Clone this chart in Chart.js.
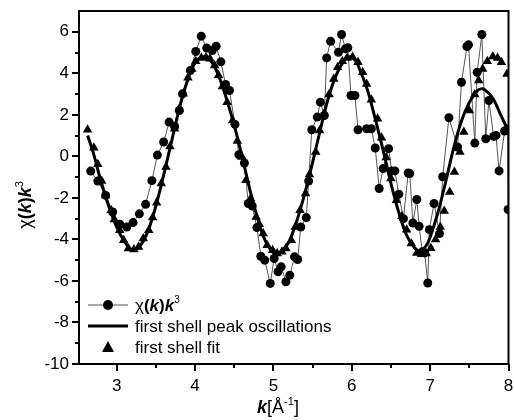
<!DOCTYPE html>
<html>
<head>
<meta charset="utf-8">
<script src="https://cdn.jsdelivr.net/npm/chart.js@4.4.1/dist/chart.umd.min.js"></script>
<style>
  html, body { margin: 0; padding: 0; background: #fff; }
  canvas { display: block; }
</style>
</head>
<body>
<canvas id="chart" width="514" height="420"></canvas>
<script>
'use strict';

// ── Data ────────────────────────────────────────────────────────────────────
// measured chi(k)k^3 (circles, thin grey line)
const measK = [2.67, 2.76, 2.86, 2.95, 3.04, 3.13, 3.21, 3.29, 3.37, 3.45, 3.52, 3.60, 3.67, 3.74,
  3.80, 3.84, 3.94, 4.01, 4.08, 4.15, 4.22, 4.27, 4.33, 4.39, 4.44, 4.51, 4.56, 4.63, 4.68, 4.73, 4.79,
  4.84, 4.89, 4.96, 5.01, 5.06, 5.10, 5.16, 5.21, 5.27, 5.31, 5.35, 5.42, 5.45, 5.49, 5.56, 5.60,
  5.65, 5.68, 5.73, 5.83, 5.87, 5.92, 5.95, 5.99, 6.04, 6.08, 6.19, 6.25, 6.30, 6.35, 6.40, 6.47,
  6.51, 6.55, 6.60, 6.66, 6.72, 6.74, 6.78, 6.83, 6.86, 6.90, 6.93, 6.97, 6.99, 7.05, 7.12, 7.16, 7.24, 7.35,
  7.40, 7.47, 7.49, 7.57, 7.60, 7.66, 7.71, 7.75, 7.81, 7.84, 7.88, 7.95, 7.99, 7.995];
const measChi = [-0.71, -1.19, -1.88, -2.68, -3.27, -3.40, -3.19, -2.77, -2.31, -1.17, 0.06, 0.69, 1.65, 1.44,
  2.21, 3.01, 4.13, 5.05, 5.79, 5.22, 5.10, 5.30, 4.55, 3.46, 3.17, 1.54, 0.08, -0.32, -2.27, -2.39, -3.43,
  -4.81, -5.00, -6.12, -4.92, -5.56, -5.32, -6.04, -5.72, -4.84, -4.97, -3.40, -2.95, -1.19, 1.28, 1.89, 2.61,
  1.97, 4.74, 5.54, 5.01, 5.87, 5.18, 5.23, 2.93, 2.93, 1.28, 1.33, 1.33, 0.40, -1.55, -0.59, 0.37,
  -0.70, -0.70, -1.82, -3.00, -0.80, -0.83, -3.21, -2.08, -3.37, -4.60, -4.65, -6.10, -3.53, -2.27, -3.72, -0.98, 1.86, 0.45,
  3.57, 5.29, 5.37, 0.64, 4.05, 5.87, 0.85, 2.69, 0.96, 1.01, -0.70, 1.22, 1.33, -2.56];

// first shell peak oscillations (thick black line)
const peakK = [2.63, 2.70, 2.80, 2.90, 3.00, 3.10, 3.20, 3.30, 3.40, 3.50, 3.60, 3.70, 3.80, 3.90,
  4.00, 4.10, 4.20, 4.30, 4.40, 4.50, 4.60, 4.70, 4.80, 4.90, 5.00, 5.05, 5.10, 5.20, 5.30, 5.40,
  5.50, 5.60, 5.70, 5.80, 5.90, 5.97, 6.05, 6.10, 6.20, 6.30, 6.40, 6.50, 6.60, 6.70, 6.80, 6.87,
  6.95, 7.00, 7.10, 7.20, 7.30, 7.40, 7.50, 7.60, 7.65, 7.70, 7.80, 7.90, 8.00];
const peakChi = [1.0, 0.2, -1.2, -2.4, -3.4, -4.1, -4.5, -4.3, -3.6, -2.4, -0.9, 0.7, 2.3, 3.6,
  4.5, 4.8, 4.6, 3.9, 2.8, 1.5, 0.0, -1.6, -3.0, -4.1, -4.65, -4.7, -4.6, -4.1, -3.1, -1.8,
  -0.3, 1.3, 2.8, 3.9, 4.6, 4.8, 4.6, 4.2, 3.2, 1.8, 0.3, -1.3, -2.7, -3.8, -4.4, -4.55,
  -4.3, -3.9, -2.7, -1.2, 0.4, 1.7, 2.6, 3.15, 3.25, 3.2, 2.8, 2.0, 1.2];

// first shell fit (triangles)
const fitK = [2.63, 2.71, 2.76, 2.81, 2.86, 2.93, 2.97, 3.04, 3.09, 3.15, 3.22, 3.28, 3.34, 3.41,
  3.46, 3.51, 3.57, 3.63, 3.68, 3.74, 3.80, 3.85, 3.91, 3.96, 4.01, 4.08, 4.14, 4.19, 4.25, 4.30,
  4.35, 4.41, 4.48, 4.54, 4.60, 4.65, 4.71, 4.78, 4.82, 4.87, 4.92, 4.99, 5.05, 5.11, 5.16, 5.23,
  5.28, 5.34, 5.41, 5.46, 5.54, 5.59, 5.65, 5.71, 5.77, 5.82, 5.88, 5.94, 6.01, 6.08, 6.14, 6.19,
  6.25, 6.33, 6.38, 6.44, 6.50, 6.57, 6.64, 6.70, 6.76, 6.83, 6.89, 6.95, 7.01, 7.07, 7.13, 7.18,
  7.25, 7.31, 7.38, 7.43, 7.50, 7.57, 7.62, 7.67, 7.73, 7.80, 7.86, 7.91, 7.98];
const fitChi = [1.28, 0.42, -0.38, -1.19, -1.88, -2.60, -3.04, -3.56, -4.04, -4.44, -4.49, -4.36, -3.96, -3.56,
  -2.95, -2.24, -1.31, -0.51, 0.48, 1.33, 2.29, 3.01, 3.78, 4.21, 4.58, 4.74, 4.77, 4.70, 4.38, 3.90,
  3.37, 2.61, 1.73, 0.74, -0.03, -1.15, -2.03, -2.92, -3.27, -3.72, -4.28, -4.52, -4.68, -4.60, -4.44, -4.04,
  -3.40, -2.60, -1.79, -0.87, 0.21, 1.25, 2.08, 2.98, 3.73, 4.29, 4.58, 4.74, 4.79, 4.53, 4.05, 3.49,
  2.72, 1.81, 0.90, -0.06, -1.07, -2.12, -2.88, -3.53, -4.20, -4.65, -4.71, -4.68, -4.43, -4.00, -3.40, -2.63,
  -1.72, -0.75, 0.21, 1.17, 2.21, 2.98, 3.65, 4.21, 4.58, 4.81, 4.74, 4.53, 3.97];

// axes
const xMajor = [3, 4, 5, 6, 7, 8];
const xMinor = [3.5, 4.5, 5.5, 6.5, 7.5];
const yMajor = [-10, -8, -6, -4, -2, 0, 2, 4, 6];
const yMinor = [-9, -7, -5, -3, -1, 1, 3, 5];

const FONT = 'Arial, "Liberation Sans", sans-serif';

// ── Helpers ─────────────────────────────────────────────────────────────────
function toPoints(xs, ys) {
  return xs.map((x, i) => ({ x: x, y: ys[i] }));
}

/** Draw a run of text pieces with their own fonts, starting at x */
function drawRuns(ctx, runs, x, y, align) {
  let total = 0;
  runs.forEach(r => { ctx.font = r.font; r.w = ctx.measureText(r.t).width; total += r.w; });
  let cx = align === 'center' ? x - total / 2 : x;
  runs.forEach(r => {
    ctx.font = r.font;
    ctx.fillText(r.t, cx, y + (r.dy || 0));
    cx += r.w;
  });
}

function chiRuns(size) {
  return [
    { t: 'χ', font: `${size}px ${FONT}` },
    { t: '(', font: `bold ${size}px ${FONT}` },
    { t: 'k', font: `italic bold ${size}px ${FONT}` },
    { t: ')', font: `bold ${size}px ${FONT}` },
    { t: 'k', font: `italic bold ${size}px ${FONT}` },
    { t: '3', font: `${Math.round(size * 0.6)}px ${FONT}`, dy: -size * 0.45 },
  ];
}

// ── Frame, ticks, titles and legend ─────────────────────────────────────────
const decorations = {
  id: 'decorations',
  afterDraw(chart) {
    const { ctx, chartArea: a, scales } = chart;
    const xs = scales.x, ys = scales.y;
    ctx.save();
    ctx.strokeStyle = '#000';
    ctx.fillStyle = '#000';
    ctx.lineWidth = 2;
    ctx.strokeRect(a.left, a.top, a.right - a.left, a.bottom - a.top);

    // ticks
    ctx.beginPath();
    xMajor.forEach(v => { const p = Math.round(xs.getPixelForValue(v)); ctx.moveTo(p, a.bottom); ctx.lineTo(p, a.bottom + 7); });
    xMinor.forEach(v => { const p = Math.round(xs.getPixelForValue(v)); ctx.moveTo(p, a.bottom); ctx.lineTo(p, a.bottom + 4); });
    yMajor.forEach(v => { const p = Math.round(ys.getPixelForValue(v)); ctx.moveTo(a.left, p); ctx.lineTo(a.left - 7, p); });
    yMinor.forEach(v => { const p = Math.round(ys.getPixelForValue(v)); ctx.moveTo(a.left, p); ctx.lineTo(a.left - 4, p); });
    ctx.stroke();

    // tick labels
    ctx.font = `17px ${FONT}`;
    ctx.textAlign = 'center';
    ctx.textBaseline = 'alphabetic';
    xMajor.forEach(v => ctx.fillText(String(v), xs.getPixelForValue(v), a.bottom + 27));
    ctx.textAlign = 'right';
    ctx.textBaseline = 'middle';
    yMajor.forEach(v => ctx.fillText(String(v), a.left - 10, ys.getPixelForValue(v)));

    // axis titles
    ctx.textAlign = 'left';
    ctx.textBaseline = 'alphabetic';
    drawRuns(ctx, [
      { t: 'k', font: `italic bold 18px ${FONT}` },
      { t: '[Å', font: `18px ${FONT}` },
      { t: '-1', font: `11px ${FONT}`, dy: -8 },
      { t: ']', font: `18px ${FONT}` },
    ], 278, 413, 'center');

    ctx.save();
    ctx.translate(31, 205);
    ctx.rotate(-Math.PI / 2);
    drawRuns(ctx, chiRuns(18), 0, 0, 'center');
    ctx.restore();

    // legend inside the plot
    const lx = 88, tx = 135;
    const rows = [305, 326, 347];
    ctx.strokeStyle = '#555';
    ctx.lineWidth = 1;
    ctx.beginPath(); ctx.moveTo(lx, rows[0]); ctx.lineTo(lx + 40, rows[0]); ctx.stroke();
    ctx.beginPath(); ctx.arc(lx + 20, rows[0], 5, 0, Math.PI * 2); ctx.fill();
    ctx.strokeStyle = '#000';
    ctx.lineWidth = 3;
    ctx.beginPath(); ctx.moveTo(lx, rows[1]); ctx.lineTo(lx + 40, rows[1]); ctx.stroke();
    ctx.beginPath();
    ctx.moveTo(lx + 20, rows[2] - 6); ctx.lineTo(lx + 26, rows[2] + 5); ctx.lineTo(lx + 14, rows[2] + 5);
    ctx.closePath(); ctx.fill();

    drawRuns(ctx, chiRuns(17), tx, rows[0] + 6, 'left');
    ctx.font = `17px ${FONT}`;
    ctx.fillText('first shell peak oscillations', tx, rows[1] + 6);
    ctx.fillText('first shell fit', tx, rows[2] + 6);
    ctx.restore();
  }
};

// ── Chart ───────────────────────────────────────────────────────────────────
new Chart(document.getElementById('chart').getContext('2d'), {
  type: 'scatter',
  data: {
    datasets: [
      {
        label: 'χ(k)k³',
        data: toPoints(measK, measChi),
        showLine: true,
        borderColor: '#555',
        borderWidth: 1,
        pointRadius: 4.5,
        pointBackgroundColor: '#000',
        pointBorderWidth: 0,
        order: 3,
      },
      {
        label: 'first shell fit',
        data: toPoints(fitK, fitChi),
        showLine: false,
        pointStyle: 'triangle',
        pointRadius: 5.5,
        pointBackgroundColor: '#000',
        pointBorderWidth: 0,
        order: 2,
      },
      {
        label: 'first shell peak oscillations',
        data: toPoints(peakK, peakChi),
        showLine: true,
        borderColor: '#000',
        borderWidth: 3,
        pointRadius: 0,
        tension: 0.35,
        order: 1,
      },
    ],
  },
  options: {
    responsive: false,
    devicePixelRatio: 1,
    animation: false,
    layout: { padding: { left: 79, top: 11, right: 3, bottom: 56 } },
    scales: {
      x: { type: 'linear', min: 2.52, max: 8, display: false },
      y: { type: 'linear', min: -10, max: 7, display: false },
    },
    plugins: {
      legend: { display: false },
      tooltip: { enabled: false },
    },
  },
  plugins: [decorations],
});
</script>
</body>
</html>
